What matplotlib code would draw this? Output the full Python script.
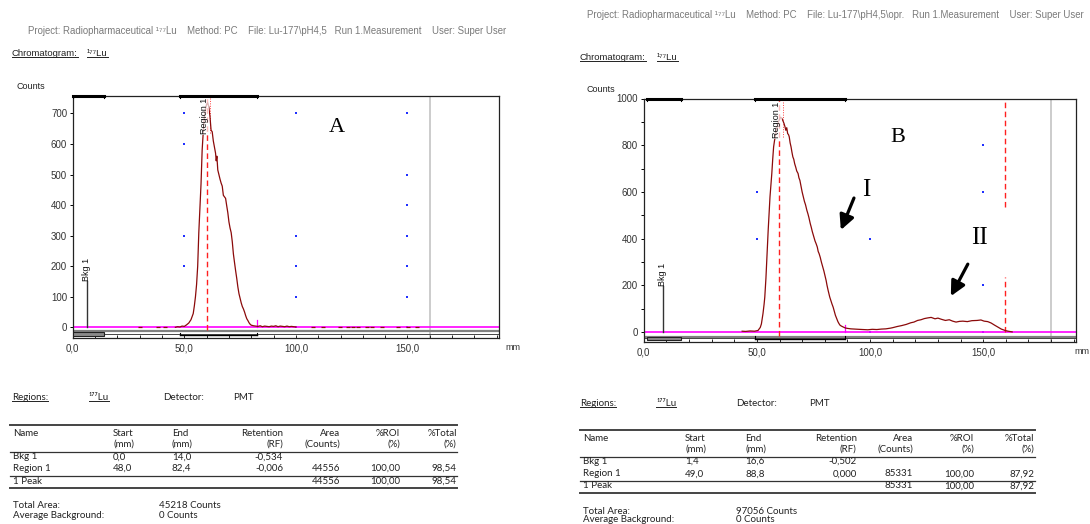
import matplotlib
matplotlib.use("Agg")
import matplotlib.pyplot as plt
from matplotlib.lines import Line2D
from matplotlib.patches import Rectangle

W, H = 1090, 524

# ---------------- data ----------------
a_x = [46.0, 47.0, 48.0, 49.0, 50.0, 51.0, 52.0, 53.0, 54.0, 54.5, 55.0, 55.5, 56.0, 56.5, 57.0,
       57.5, 58.0, 58.5, 59.0, 59.5, 60.0, 60.5, 61.0, 61.5, 62.0, 62.5, 63.0, 63.5, 64.0, 64.3,
       64.6, 65.0, 65.5, 66.0, 66.5, 67.0, 67.5, 68.0, 68.5, 69.0, 69.5, 70.0, 70.5, 71.0, 71.5,
       72.0, 72.5, 73.0, 73.5, 74.0, 74.5, 75.0, 75.5, 76.0, 76.5, 77.0, 77.5, 78.0, 78.5, 79.0,
       79.5, 80.0, 81.0, 82.0, 83.0, 84.0, 85.0, 86.0, 87.0, 88.0, 89.0, 90.0, 91.0, 92.0, 93.0,
       94.0, 95.0, 96.0, 97.0, 98.0, 99.0, 100.0]
a_y = [0, 2, 1, 4, 3, 8, 14, 25, 45, 70, 100, 140, 200, 310, 390,
       470, 580, 640, 690, 715, 730, 735, 720, 690, 645, 640, 610, 590, 570, 545,
       560, 515, 500, 485, 472, 462, 432, 427, 422, 398, 375, 345, 325, 310, 280,
       240, 212, 185, 160, 132, 110, 95, 80, 68, 60, 50, 38, 28, 22, 15,
       10, 7, 5, 4, 3, 5, 2, 4, 3, 2, 4, 3, 5, 2, 4,
       3, 2, 4, 2, 3, 2, 1]
a_sparse_x = [30.1, 38.4, 41.4, 107.7, 112.3, 119.7, 123.5, 125.7, 128.0, 131.7, 134.0,
              138.4, 145.9, 150.4, 154.1]
a_sparse_y = [2, 2, 2, 2, 2, 2, 2, 2, 2, 2, 2, 2, 2, 2, 2]

b_x = [43.5, 45.0, 47.0, 49.0, 50.5, 51.5, 52.0, 52.7, 53.2, 53.5, 54.0, 54.3, 54.7, 55.0, 55.4,
       55.8, 56.2, 56.6, 57.0, 57.4, 57.8, 58.1, 58.5, 59.0, 59.5, 60.0, 60.5, 61.0, 61.5, 62.0,
       62.4, 62.8, 63.2, 63.6, 64.0, 64.3, 64.7, 65.1, 65.5, 65.9, 66.3, 66.7, 67.2, 67.6, 68.2,
       68.6, 69.0, 69.5, 70.0, 70.5, 71.0, 71.5, 72.1, 72.6, 73.0, 73.6, 74.0, 74.5, 75.2, 75.7,
       76.2, 76.7, 77.1, 77.5, 78.0, 78.5, 79.1, 79.6, 80.0, 80.6, 81.0, 81.5, 82.2, 82.7, 83.2,
       83.7, 84.2, 84.7, 85.3, 85.8, 86.3, 86.8, 87.5, 88.4, 89.0, 90.0, 91.5, 93.0, 95.0, 97.0,
       99.0, 101.0, 103.0, 105.0, 107.0, 109.0, 110.0, 112.0, 114.0, 116.0, 118.0, 119.4, 121.0,
       122.5, 124.0, 125.6, 127.0, 128.7, 130.0, 131.5, 133.3, 135.0, 136.5, 138.0, 139.5, 141.0,
       143.0, 145.0, 147.3, 149.0, 150.4, 152.0, 153.5, 155.0, 156.6, 158.0, 159.7, 161.0, 162.8]
b_y = [4, 3, 5, 4, 7, 20, 35, 79, 120, 150, 230, 293, 370, 436, 510,
       579, 630, 679, 740, 793, 820, 836, 860, 880, 900, 910, 920, 915, 905, 893,
       880, 864, 875, 850, 845, 836, 810, 793, 770, 750, 740, 721, 705, 690, 679,
       660, 650, 625, 600, 579, 560, 545, 521, 505, 490, 464, 450, 430, 407, 390,
       378, 364, 345, 336, 320, 300, 279, 262, 245, 221, 200, 178, 150, 135, 120,
       107, 90, 72, 57, 45, 36, 29, 25, 21, 18, 16, 14, 13, 12, 11,
       10, 12, 11, 13, 14, 17, 19, 24, 28, 33, 40, 43, 50,
       53, 58, 61, 63, 57, 60, 55, 50, 53, 47, 43, 46, 47,
       45, 49, 50, 52, 47, 45, 39, 30, 21, 13, 7, 4, 1]

a_bkg = (0.0, 14.0)
a_region = (48.0, 82.4)
b_bkg = (1.4, 16.6)
b_region = (49.0, 88.8)
a_peak_mm = 60.0
b_peak_mm = 59.9
b_front_mark_mm = 159.6
a_front_mm = 160.0
b_front_mm = 180.0

a_yticks = [0, 100, 200, 300, 400, 500, 600, 700]
b_yticks = [0, 200, 400, 600, 800, 1000]
x_ticks = [0, 50, 100, 150]
x_ticklabels = ["0,0", "50,0", "100,0", "150,0"]

a_dots_x = [50, 100, 150, 50, 150, 150, 50, 100, 150, 50, 100, 150, 100, 150, 100, 150]
a_dots_y = [700, 700, 700, 600, 500, 400, 300, 300, 300, 200, 200, 200, 100, 100, 0, 0]
b_dots_x = [50, 100, 150, 150, 50, 150, 50, 100, 150, 100, 150]
b_dots_y = [1000, 1000, 1000, 800, 600, 600, 400, 400, 200, 0, 0]

table_cols = ["Name", "Start", "End", "Retention", "Area", "%ROI", "%Total"]
table_units = ["", "(mm)", "(mm)", "(RF)", "(Counts)", "(%)", "(%)"]
a_rows = [["Bkg 1", "0,0", "14,0", "-0,534", "", "", ""],
          ["Region 1", "48,0", "82,4", "-0,006", "44556", "100,00", "98,54"]]
a_peak_row = ["1 Peak", "", "", "", "44556", "100,00", "98,54"]
b_rows = [["Bkg 1", "1,4", "16,6", "-0,502", "", "", ""],
          ["Region 1", "49,0", "88,8", "0,000", "85331", "100,00", "87,92"]]
b_peak_row = ["1 Peak", "", "", "", "85331", "100,00", "87,92"]
a_total = "45218 Counts"
b_total = "97056 Counts"
avg_bkg = "0 Counts"

header_a = "Project: Radiopharmaceutical \u00b9\u2077\u2077Lu    Method: PC    File: Lu-177\\pH4,5   Run 1.Measurement    User: Super User"
header_b = "Project: Radiopharmaceutical \u00b9\u2077\u2077Lu    Method: PC    File: Lu-177\\pH4,5\\opr.   Run 1.Measurement    User: Super User"
iso = "\u00b9\u2077\u2077Lu"

# ---------------- figure ----------------
fig = plt.figure(figsize=(W / 100, H / 100), dpi=100)
renderer = fig.canvas.get_renderer()

SANS = ["Liberation Sans", "DejaVu Sans"]
TAB = ["Lato", "DejaVu Sans"]
TXT = "#222222"


def ftext(x, y, s, size=7, family=TAB, color=TXT, ha="left", underline=False, **kw):
    t = fig.text(x / W, 1 - y / H, s, fontsize=size, family=family, color=color,
                 ha=ha, va="center", **kw)
    if underline:
        bb = t.get_window_extent(renderer)
        yy = bb.y0 + 1.0
        fig.add_artist(Line2D([bb.x0 / W, bb.x1 / W], [yy / H, yy / H], color=color, lw=0.7))
    return t


def hline(x0, x1, y, lw=1.0, color="#333333"):
    fig.add_artist(Line2D([x0 / W, x1 / W], [1 - y / H, 1 - y / H], color=color, lw=lw))


def panel(ax, x, y, ylim, yticks, bkg, region, peak_mm, front_mm, dots_x, dots_y,
          bkg_mm, bkg_top, region_label_x, region_label_top, strip, tick_d, minor_y=None):
    ax.set_xlim(0, 191)
    ax.set_ylim(*ylim)
    for s in ax.spines.values():
        s.set_color("#222222")
        s.set_linewidth(0.9)
    ax.set_xticks(x_ticks)
    ax.set_xticklabels(x_ticklabels)
    ax.set_xticks(list(range(0, 191, 10)), minor=True)
    ax.tick_params(axis="x", which="both", direction="in", length=2.5, width=0.7,
                   labelsize=7, pad=4, colors="#222222", labelcolor="#333333")
    ax.set_yticks(yticks)
    if minor_y:
        ax.set_yticks(minor_y, minor=True)
    ax.tick_params(axis="y", which="both", direction="out", length=2.5, width=0.7,
                   labelsize=7, pad=1.5, labelcolor="#333333")
    for lab in ax.get_xticklabels() + ax.get_yticklabels():
        lab.set_family(SANS)

    # grid dots
    ax.scatter(dots_x, dots_y, s=1.6, color="#2030ff", marker="s", linewidths=0, zorder=1)
    # front line
    ax.axvline(front_mm, color="#c4c4c4", lw=1.2, zorder=1)
    # baseline
    ax.axhline(0, color="#ff00ff", lw=1.2, zorder=2)
    # bottom strip
    ax.axhline(strip[0], color="#808080", lw=1.6, zorder=2)
    ax.axhline(strip[1], color="#444444", lw=0.7, zorder=2)
    ax.add_patch(Rectangle((bkg[0], strip[2]), bkg[1] - bkg[0], strip[3] - strip[2],
                           facecolor="#8a8a8a", edgecolor="#222222", lw=0.8, zorder=3))
    ax.plot([region[0], region[1]], [strip[4], strip[4]], color="black", lw=1.0, zorder=3)
    for xx in region:
        ax.plot([xx, xx], [strip[4], strip[4] + tick_d], color="black", lw=0.8, zorder=3)
    # top bars
    top = ylim[1]
    for rng in (bkg, region):
        ax.plot(rng, [top, top], color="black", lw=2.2, clip_on=False, zorder=5)
        for xx in rng:
            ax.plot([xx, xx], [top, top - tick_d], color="black", lw=0.8, zorder=5)
    # peak retention lines
    ax.plot([peak_mm, peak_mm], [strip[0] + 2, top], color="#ff2020", lw=1.0,
            ls=(0, (4, 2.5)), zorder=3)
    ax.plot([peak_mm + 1.6, peak_mm + 1.6], [region_label_top - 0.15 * top, top],
            color="#ff4040", lw=0.7, ls=(0, (1, 1.5)), zorder=3)
    # region end marker
    ax.plot([region[1], region[1]], [0, 0.03 * top], color="#ff00ff", lw=0.9, zorder=3)
    # trace
    ax.plot(x, y, color="#8b0a0a", lw=0.9, zorder=4)
    # Bkg label
    ax.plot([bkg_mm, bkg_mm], [0, bkg_top], color="#333333", lw=1.0, zorder=3)
    ax.text(bkg_mm, bkg_top, "Bkg 1", rotation=90, ha="center", va="bottom", fontsize=6.5,
            family=SANS, color="#111111", zorder=6)
    ax.text(region_label_x, region_label_top, "Region 1", rotation=90, ha="center", va="top",
            fontsize=6.5, family=SANS, color="#111111", zorder=6,
            bbox=dict(facecolor="white", edgecolor="none", pad=0.3, alpha=0.7))
    ax.set_facecolor("white")


axA = fig.add_axes([72.7 / W, 1 - 337.7 / H, (499 - 72.7) / W, (337.7 - 96) / H])
axB = fig.add_axes([643.7 / W, 1 - 341.7 / H, (1076 - 643.7) / W, (341.7 - 98.5) / H])

panel(axA, a_x, a_y, (-34, 757), a_yticks, a_bkg, a_region, a_peak_mm, a_front_mm,
      a_dots_x, a_dots_y, 6.3, 150, 59.0, 750, (-12, -22, -16, -28, -26), 8)
axA.scatter(a_sparse_x, a_sparse_y, marker="_", s=6, color="#8b0a0a", linewidths=0.9, zorder=4)

panel(axB, b_x, b_y, (-41, 1000), b_yticks, b_bkg, b_region, b_peak_mm, b_front_mm,
      b_dots_x, b_dots_y, 8.5, 196, 58.8, 985, (-19, -27, -22, -35, -30), 12,
      minor_y=[100, 300, 500, 700, 900])
axB.plot([b_front_mark_mm, b_front_mark_mm], [536, 1000], color="#ff2020", lw=1.0,
         ls=(0, (4, 2.5)), zorder=3)
axB.plot([b_front_mark_mm, b_front_mark_mm], [0, 236], color="#ff2020", lw=1.0,
         ls=(0, (4, 2.5)), zorder=3)

# big labels and arrows
SERIF = ["Liberation Serif", "DejaVu Serif"]
axA.text(118.4, 655, "A", fontsize=16, family=SERIF, ha="center", va="center")
axB.text(112.3, 835, "B", fontsize=16, family=SERIF, ha="center", va="center")
axB.text(98.2, 608, "I", fontsize=18, family=SERIF, ha="center", va="center")
axB.text(148.5, 403, "II", fontsize=18, family=SERIF, ha="center", va="center")
arrow = dict(arrowstyle="-|>", mutation_scale=22, lw=2.3, color="black", shrinkA=0, shrinkB=0)
axB.annotate("", xy=(87.1, 437), xytext=(92.9, 574), arrowprops=arrow)
axB.annotate("", xy=(135.7, 154), xytext=(143.2, 291), arrowprops=arrow)

# axis unit labels
ftext(16.7, 86.7, "Counts", size=6.5, family=SANS)
ftext(586.7, 89, "Counts", size=6.5, family=SANS)
ftext(505, 347, "mm", size=6.5, family=SANS, color="#333333")
ftext(1089, 352, "mm", size=6.5, family=SANS, color="#333333", ha="right")

# headers
ftext(28, 30.7, header_a, size=6.9, family=SANS, color="#7a7a7a")
ftext(586.7, 15, header_b, size=6.9, family=SANS, color="#7a7a7a")
ftext(12, 53, "Chromatogram:", size=6.8, family=SANS, underline=True)
ftext(87, 53, iso, size=6.8, family=SANS, underline=True)
ftext(579.8, 57, "Chromatogram:", size=6.8, family=SANS, underline=True)
ftext(657, 57, iso, size=6.8, family=SANS, underline=True)

# region lines
for (xr, yr, xl, xd, xp) in [(12, 397, 88.6, 163, 233), (579.8, 403.3, 656, 736, 809)]:
    ftext(xr, yr, "Regions:", size=7, underline=True)
    ftext(xl, yr, iso, size=7, underline=True)
    ftext(xd, yr, "Detector:", size=7)
    ftext(xp, yr, "PMT", size=7)


def draw_table(cols_x, aligns, y_h1, y_h2, y_rows, y_peak, lines, x0, x1, rows, peak_row,
               y_tot, y_avg, total_x, total_val):
    for j in range(len(table_cols)):
        ftext(cols_x[j], y_h1, table_cols[j], ha=aligns[j])
        if table_units[j]:
            ftext(cols_x[j], y_h2, table_units[j], ha=aligns[j])
    for row, yy in zip(rows, y_rows):
        for j, v in enumerate(row):
            if v:
                ftext(cols_x[j], yy, v, ha=aligns[j])
    for j, v in enumerate(peak_row):
        if v:
            ftext(cols_x[j], y_peak, v, ha=aligns[j])
    hline(x0, x1, lines[0], lw=1.4, color="#444444")
    hline(x0, x1, lines[1], lw=0.9)
    hline(x0, x1, lines[2], lw=0.9)
    hline(x0, x1, lines[3], lw=1.4, color="#444444")
    ftext(cols_x[0], y_tot, "Total Area:")
    ftext(total_x, y_tot, total_val)
    ftext(cols_x[0], y_avg, "Average Background:")
    ftext(total_x, y_avg, avg_bkg)


aligns = ["left", "left", "left", "right", "right", "right", "right"]
draw_table([13, 113, 171.7, 283, 340, 400, 456.7], aligns, 433.3, 444, [456.7, 468.3], 481,
           [425, 451.7, 475.7, 487.7], 10, 457, a_rows, a_peak_row, 505, 516, 159.3, a_total)
draw_table([583.3, 685, 745, 856.7, 913.3, 974, 1034], aligns, 438.3, 449, [461, 474], 486,
           [430, 456.7, 480.7, 492.7], 580, 1035, b_rows, b_peak_row, 511, 519.5, 735.7, b_total)

fig.savefig("out.png", dpi=100, facecolor="white")
